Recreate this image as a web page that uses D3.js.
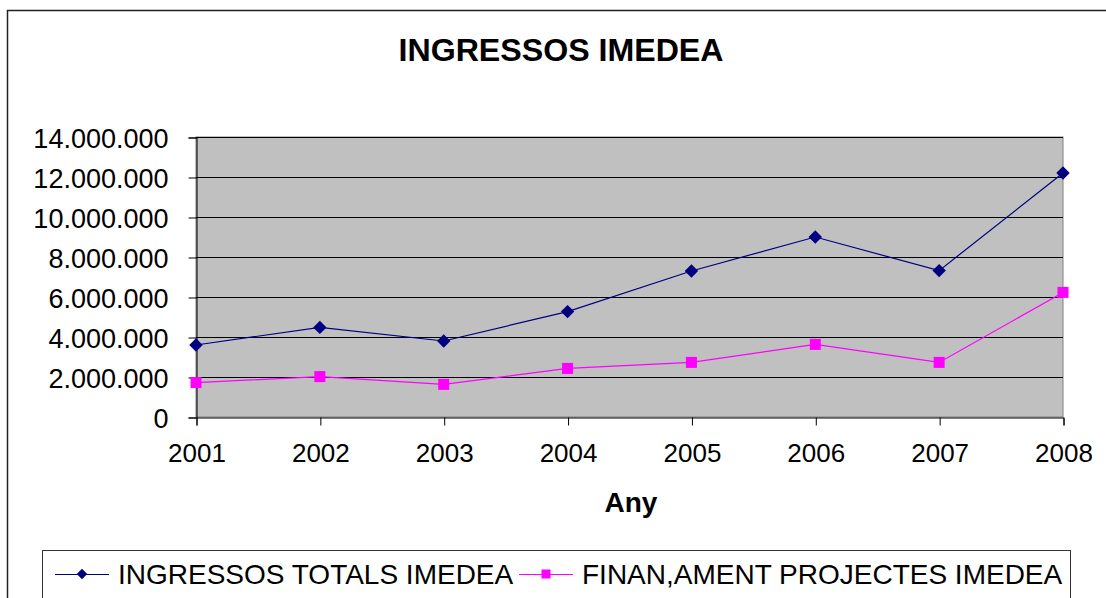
<!DOCTYPE html>
<html>
<head>
<meta charset="utf-8">
<script src="https://cdn.jsdelivr.net/npm/d3@7/dist/d3.min.js"></script>
<style>
  html, body { margin: 0; padding: 0; background: #fff; }
  svg { display: block; font-family: "Liberation Sans", Arial, sans-serif; }
</style>
</head>
<body>
<svg id="chart" width="1106" height="598"></svg>
<script>
const years = ["2001", "2002", "2003", "2004", "2005", "2006", "2007", "2008"];
const ingressosTotals = [3600000, 4480000, 3800000, 5270000, 7300000, 9000000, 7320000, 12200000];
const financamentProjectes = [1720000, 2020000, 1630000, 2430000, 2730000, 3630000, 2730000, 6230000];
const yTicks = [0, 2000000, 4000000, 6000000, 8000000, 10000000, 12000000, 14000000];
const seriesNames = ["INGRESSOS TOTALS IMEDEA", "FINAN,AMENT PROJECTES IMEDEA"];
const titleText = "INGRESSOS IMEDEA";
const xTitle = "Any";

const svg = d3.select("#chart");
const plot = { left: 196, right: 1063, top: 137, bottom: 417 };

const fmt = d3.formatLocale({ decimal: ",", thousands: ".", grouping: [3], currency: ["", ""] }).format(",d");

const x = d3.scalePoint().domain(years).range([plot.left, plot.right]);
const y = d3.scaleLinear().domain([0, 14000000]).range([plot.bottom, plot.top]);

// outer chart border
svg.append("rect")
  .attr("x", 7.5).attr("y", 10.5)
  .attr("width", 1120).attr("height", 620)
  .attr("fill", "#fff").attr("stroke", "#222").attr("stroke-width", 1.5);

// title
svg.append("text")
  .attr("x", 561).attr("y", 61)
  .attr("text-anchor", "middle")
  .attr("font-weight", "bold").attr("font-size", 31)
  .attr("textLength", 325).attr("lengthAdjust", "spacingAndGlyphs")
  .text(titleText);

// plot background
svg.append("rect")
  .attr("x", plot.left).attr("y", plot.top)
  .attr("width", plot.right - plot.left).attr("height", plot.bottom - plot.top)
  .attr("fill", "#c0c0c0").attr("stroke", "#808080").attr("stroke-width", 1);

// gridlines
svg.append("g").selectAll("line")
  .data(yTicks.filter(d => d > 0))
  .join("line")
  .attr("x1", plot.left).attr("x2", plot.right)
  .attr("y1", d => Math.round(y(d)) + 0.5).attr("y2", d => Math.round(y(d)) + 0.5)
  .attr("stroke", "#000").attr("stroke-width", 1);

// y axis
const yAxis = svg.append("g")
  .attr("transform", `translate(${plot.left + 0.5},0.5)`)
  .call(d3.axisLeft(y).tickValues(yTicks).tickFormat(fmt).tickSize(8).tickPadding(20));
yAxis.select(".domain").attr("stroke", "#000");
yAxis.selectAll(".tick line").attr("stroke", "#000");
yAxis.selectAll("text")
  .attr("font-family", "Liberation Sans, Arial, sans-serif")
  .attr("font-size", 27).attr("fill", "#000").attr("dy", "0.36em");

// x axis
const xAxis = svg.append("g")
  .attr("transform", `translate(0.5,${plot.bottom + 0.5})`)
  .call(d3.axisBottom(x).tickSize(8).tickPadding(18));
xAxis.select(".domain").attr("stroke", "#000");
xAxis.selectAll(".tick line").attr("stroke", "#000");
xAxis.selectAll("text")
  .attr("font-family", "Liberation Sans, Arial, sans-serif")
  .attr("font-size", 26).attr("fill", "#000");

// x title
svg.append("text")
  .attr("x", 631).attr("y", 512)
  .attr("text-anchor", "middle")
  .attr("font-weight", "bold").attr("font-size", 28)
  .text(xTitle);

const line = d3.line().x((d, i) => x(years[i])).y(d => y(d));

// series 1
svg.append("path").datum(ingressosTotals)
  .attr("d", line).attr("fill", "none")
  .attr("stroke", "#000080").attr("stroke-width", 1.2);
svg.append("g").selectAll("path")
  .data(ingressosTotals)
  .join("path")
  .attr("d", d3.symbol(d3.symbolDiamond2, 115)())
  .attr("transform", (d, i) => `translate(${x(years[i])},${y(d)})`)
  .attr("fill", "#000080");

// series 2
svg.append("path").datum(financamentProjectes)
  .attr("d", line).attr("fill", "none")
  .attr("stroke", "#ff00ff").attr("stroke-width", 1.2);
svg.append("g").selectAll("rect")
  .data(financamentProjectes)
  .join("rect")
  .attr("x", (d, i) => x(years[i]) - 5.5)
  .attr("y", d => y(d) - 5.5)
  .attr("width", 11).attr("height", 11)
  .attr("fill", "#ff00ff");

// legend
const lg = svg.append("g");
lg.append("rect")
  .attr("x", 42.5).attr("y", 550.5)
  .attr("width", 1028).attr("height", 80)
  .attr("fill", "#fff").attr("stroke", "#333").attr("stroke-width", 1);

const legendItems = [
  { name: seriesNames[0], color: "#000080", shape: "diamond", x0: 55 },
  { name: seriesNames[1], color: "#ff00ff", shape: "square", x0: 519 }
];
const ly = 574;
legendItems.forEach(it => {
  lg.append("line")
    .attr("x1", it.x0).attr("x2", it.x0 + 54)
    .attr("y1", ly + 0.5).attr("y2", ly + 0.5)
    .attr("stroke", it.color).attr("stroke-width", 1.2);
  const cx = it.x0 + 27;
  if (it.shape === "diamond") {
    lg.append("path")
      .attr("d", d3.symbol(d3.symbolDiamond2, 70)())
      .attr("transform", `translate(${cx},${ly})`)
      .attr("fill", it.color);
  } else {
    lg.append("rect")
      .attr("x", cx - 4.5).attr("y", ly - 4.5)
      .attr("width", 9).attr("height", 9)
      .attr("fill", it.color);
  }
  lg.append("text")
    .attr("x", it.x0 + 63).attr("y", ly + 10)
    .attr("font-size", 28).attr("fill", "#000")
    .text(it.name);
});
</script>
</body>
</html>
